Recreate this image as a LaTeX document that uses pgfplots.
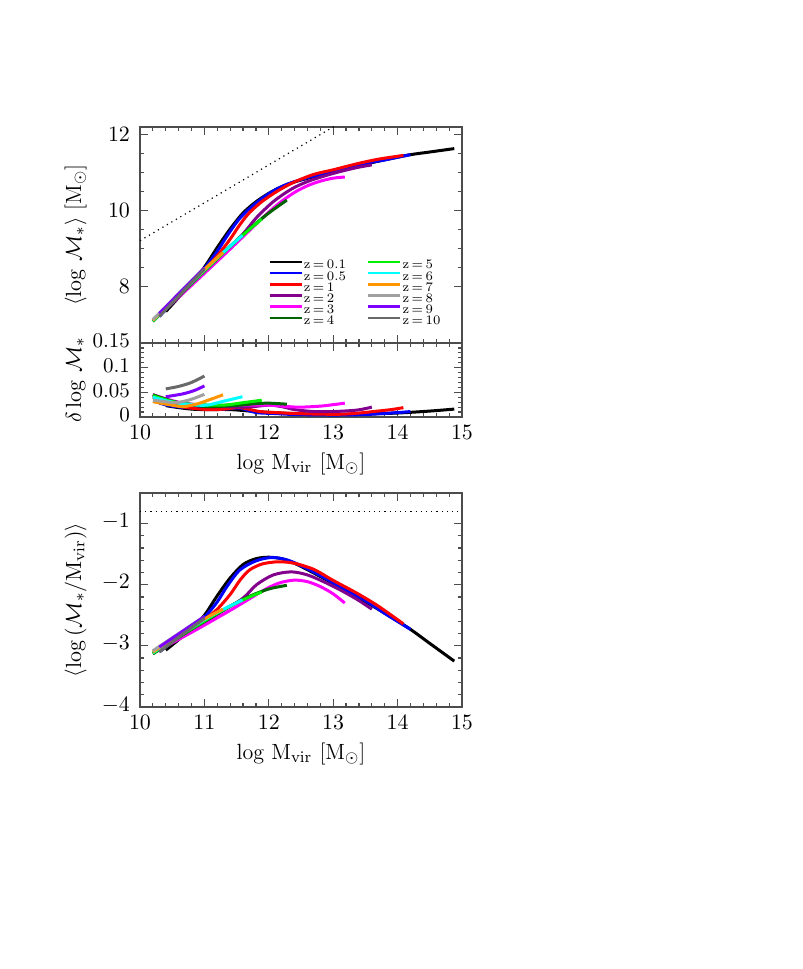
\documentclass[border=0pt]{standalone}
\usepackage{pgfplots}
\usepackage{pgfplotstable}
\pgfplotsset{compat=1.18}
\definecolor{zA}{RGB}{0,0,0}
\definecolor{zB}{RGB}{0,0,255}
\definecolor{zC}{RGB}{255,0,0}
\definecolor{zD}{RGB}{130,0,140}
\definecolor{zE}{RGB}{255,0,255}
\definecolor{zF}{RGB}{0,100,0}
\definecolor{zG}{RGB}{0,240,0}
\definecolor{zH}{RGB}{0,255,255}
\definecolor{zI}{RGB}{255,150,0}
\definecolor{zJ}{RGB}{160,160,160}
\definecolor{zK}{RGB}{125,0,255}
\definecolor{zL}{RGB}{105,105,105}

% x = log Mvir, m = <log M*>, r = <log(M*/Mvir)>
\pgfplotstableread{
x m r
10.40 7.33 -3.07
10.60 7.70 -2.90
10.80 8.08 -2.72
11.00 8.50 -2.50
11.20 9.02 -2.18
11.40 9.51 -1.89
11.60 9.93 -1.67
11.80 10.225 -1.575
12.00 10.45 -1.55
12.20 10.625 -1.575
12.40 10.75 -1.65
12.70 10.89 -1.81
13.00 11.02 -1.98
13.30 11.15 -2.15
13.60 11.26 -2.34
13.90 11.37 -2.53
14.20 11.47 -2.73
14.50 11.54 -2.96
14.88 11.63 -3.25
}\tA
\pgfplotstableread{
x m r
10.30 7.20 -3.10
10.60 7.75 -2.85
10.80 8.12 -2.68
11.00 8.47 -2.53
11.20 8.92 -2.28
11.35 9.32 -2.03
11.55 9.79 -1.76
11.80 10.19 -1.61
12.05 10.495 -1.555
12.30 10.70 -1.60
12.60 10.86 -1.74
12.90 10.99 -1.91
13.20 11.11 -2.09
13.50 11.24 -2.26
13.80 11.33 -2.47
14.00 11.40 -2.60
14.20 11.47 -2.73
}\tB
\pgfplotstableread{
x m r
10.20 7.08 -3.12
10.60 7.75 -2.85
11.00 8.43 -2.57
11.20 8.80 -2.40
11.40 9.24 -2.16
11.55 9.62 -1.93
11.70 9.94 -1.76
11.90 10.24 -1.66
12.15 10.525 -1.625
12.40 10.75 -1.65
12.70 10.95 -1.75
13.00 11.07 -1.93
13.37 11.23 -2.14
13.70 11.35 -2.35
14.09 11.45 -2.64
}\tC
\pgfplotstableread{
x m r
10.20 7.08 -3.12
10.60 7.73 -2.87
11.00 8.38 -2.62
11.30 8.88 -2.42
11.60 9.38 -2.22
11.81 9.81 -2.00
12.07 10.23 -1.84
12.35 10.56 -1.79
12.60 10.76 -1.84
12.85 10.90 -1.95
13.10 11.02 -2.08
13.37 11.13 -2.24
13.60 11.20 -2.40
}\tD
\pgfplotstableread{
x m r
10.20 7.08 -3.12
10.80 8.02 -2.78
11.40 8.98 -2.42
11.89 9.78 -2.11
12.05 10.03 -2.02
12.20 10.24 -1.96
12.40 10.475 -1.925
12.60 10.65 -1.95
12.80 10.77 -2.03
13.00 10.85 -2.15
13.18 10.88 -2.30
}\tE
\pgfplotstableread{
x m r
10.20 7.07 -3.13
10.50 7.57 -2.93
10.80 8.07 -2.73
11.10 8.56 -2.54
11.40 9.05 -2.35
11.70 9.51 -2.19
12.00 9.93 -2.07
12.28 10.27 -2.01
}\tF
\pgfplotstableread{
x m r
10.20 7.08 -3.12
10.50 7.58 -2.92
10.80 8.08 -2.72
11.10 8.57 -2.53
11.40 9.05 -2.35
11.70 9.50 -2.20
11.89 9.77 -2.12
}\tG
\pgfplotstableread{
x m r
10.20 7.09 -3.11
10.60 7.76 -2.84
11.00 8.43 -2.57
11.30 8.90 -2.40
11.59 9.34 -2.25
}\tH
\pgfplotstableread{
x m r
10.20 7.10 -3.10
10.60 7.78 -2.82
11.00 8.44 -2.56
11.29 8.89 -2.40
}\tI
\pgfplotstableread{
x m r
10.20 7.12 -3.08
10.60 7.80 -2.80
11.00 8.48 -2.52
}\tJ
\pgfplotstableread{
x m r
10.30 7.28 -3.02
10.65 7.88 -2.77
11.00 8.48 -2.52
}\tK
\pgfplotstableread{
x m r
10.30 7.20 -3.10
10.65 7.83 -2.82
11.00 8.45 -2.55
}\tL

% scatter delta log M*
\pgfplotstableread{
x d
10.40 0.023
10.60 0.019
10.80 0.016
11.00 0.015
11.40 0.015
11.80 0.011
12.20 0.008
12.60 0.006
13.00 0.005
13.50 0.006
14.00 0.008
14.50 0.012
14.88 0.016
}\dA
\pgfplotstableread{
x d
10.30 0.028
10.50 0.022
10.80 0.018
11.00 0.017
11.30 0.016
11.55 0.018
11.80 0.009
12.10 0.007
12.40 0.005
13.00 0.004
13.50 0.005
14.00 0.009
14.20 0.011
}\dB
\pgfplotstableread{
x d
10.20 0.040
10.60 0.022
11.04 0.015
11.30 0.016
11.55 0.019
11.86 0.011
12.10 0.009
12.33 0.0075
12.70 0.006
13.10 0.0055
13.40 0.008
13.62 0.011
13.90 0.015
14.09 0.019
}\dC
\pgfplotstableread{
x d
10.20 0.045
10.60 0.028
11.00 0.022
11.30 0.021
11.66 0.020
12.00 0.024
12.20 0.021
12.40 0.015
12.70 0.011
13.00 0.011
13.37 0.014
13.60 0.020
}\dD
\pgfplotstableread{
x d
10.20 0.045
10.60 0.030
11.00 0.024
11.50 0.024
12.00 0.024
12.30 0.021
12.50 0.020
12.80 0.022
13.00 0.025
13.18 0.028
}\dE
\pgfplotstableread{
x d
10.20 0.045
10.50 0.032
10.80 0.025
11.04 0.021
11.30 0.022
11.55 0.024
11.80 0.027
12.00 0.028
12.28 0.026
}\dF
\pgfplotstableread{
x d
10.20 0.043
10.40 0.035
10.62 0.028
10.90 0.025
11.29 0.024
11.60 0.029
11.89 0.034
}\dG
\pgfplotstableread{
x d
10.20 0.040
10.50 0.030
10.80 0.025
11.04 0.024
11.30 0.032
11.59 0.041
}\dH
\pgfplotstableread{
x d
10.20 0.031
10.45 0.025
10.67 0.021
10.90 0.027
11.10 0.036
11.29 0.045
}\dI
\pgfplotstableread{
x d
10.20 0.034
10.40 0.031
10.57 0.029
10.80 0.036
11.00 0.046
}\dJ
\pgfplotstableread{
x d
10.40 0.041
10.67 0.047
10.85 0.054
11.00 0.063
}\dK
\pgfplotstableread{
x d
10.40 0.057
10.60 0.062
10.80 0.070
11.00 0.083
}\dL

\pgfplotsset{
  panel/.style={
    scale only axis, width=161pt,
    xmin=10, xmax=15, xtick={10,11,12,13,14,15}, minor x tick num=4,
    tick align=inside, major tick length=4pt, minor tick length=2pt,
    axis line style={black!70, line width=0.7pt},
    every tick/.style={black!70, line width=0.6pt},
    tick label style={font=\fontsize{10.5}{12}\selectfont},
    yticklabel style={xshift=-1.5pt},
    xticklabel style={yshift=-0.5pt},
    label style={font=\fontsize{11}{13}\selectfont},
    ylabel style={at={(axis description cs:-0.2,0.5)}, anchor=center},
  },
  crv/.style={line width=1.5pt, smooth, tension=0.5, forget plot},
}

\begin{document}
\begin{tikzpicture}
\path (0,0) rectangle (401.5pt,484.5pt);

% ---------- top panel ----------
\begin{axis}[panel, at={(70pt,313pt)}, anchor=south west, height=108pt,
  ymin=6.5, ymax=12.2, ytick={8,10,12}, minor y tick num=3,
  xticklabels={},
  ylabel={$\langle\log\,\mathcal{M}_*\rangle$ [M$_\odot$]},
  legend columns=2, legend cell align=left,
  legend image code/.code={\draw[#1, line width=1.3pt] (0pt,1.2pt) -- (16pt,1.2pt);},
  legend style={draw=none, fill=none, at={(0.397,0.392)}, anchor=north west,
    inner sep=0pt, font=\fontsize{6.5}{6.5}\selectfont,
    nodes={inner sep=0.5pt, text height=4.6pt, text depth=0pt},
    row sep=0pt, /tikz/every even column/.append style={column sep=10pt}},
]
\addlegendimage{zA}\addlegendentry{z$\,$=$\,$0.1}
\addlegendimage{zG}\addlegendentry{z$\,$=$\,$5}
\addlegendimage{zB}\addlegendentry{z$\,$=$\,$0.5}
\addlegendimage{zH}\addlegendentry{z$\,$=$\,$6}
\addlegendimage{zC}\addlegendentry{z$\,$=$\,$1}
\addlegendimage{zI}\addlegendentry{z$\,$=$\,$7}
\addlegendimage{zD}\addlegendentry{z$\,$=$\,$2}
\addlegendimage{zJ}\addlegendentry{z$\,$=$\,$8}
\addlegendimage{zE}\addlegendentry{z$\,$=$\,$3}
\addlegendimage{zK}\addlegendentry{z$\,$=$\,$9}
\addlegendimage{zF}\addlegendentry{z$\,$=$\,$4}
\addlegendimage{zL}\addlegendentry{z$\,$=$\,$10}
\addplot[black, dotted, line width=0.6pt, forget plot] coordinates {(10,9.2) (13.6,12.8)};
\addplot[zA, crv] table[x=x, y=m] {\tA};
\addplot[zB, crv] table[x=x, y=m] {\tB};
\addplot[zC, crv] table[x=x, y=m] {\tC};
\addplot[zD, crv] table[x=x, y=m] {\tD};
\addplot[zE, crv] table[x=x, y=m] {\tE};
\addplot[zF, crv] table[x=x, y=m] {\tF};
\addplot[zG, crv] table[x=x, y=m] {\tG};
\addplot[zH, crv] table[x=x, y=m] {\tH};
\addplot[zI, crv] table[x=x, y=m] {\tI};
\addplot[zJ, crv] table[x=x, y=m] {\tJ};
\addplot[zK, crv] table[x=x, y=m] {\tK};
\addplot[zL, crv] table[x=x, y=m] {\tL};
\end{axis}

% ---------- middle panel ----------
\begin{axis}[panel, at={(70pt,276pt)}, anchor=south west, height=37pt,
  ymin=0, ymax=0.15, ytick={0,0.05,0.1,0.15}, yticklabels={0,0.05,0.1,0.15},
  minor y tick num=4,
  yticklabel style={yshift=1pt},
  xlabel={log M$_{\mathrm{vir}}$ [M$_\odot$]},
  ylabel={$\delta\log\,\mathcal{M}_*$},
]
\addplot[zA, crv] table[x=x, y=d] {\dA};
\addplot[zB, crv] table[x=x, y=d] {\dB};
\addplot[zC, crv] table[x=x, y=d] {\dC};
\addplot[zD, crv] table[x=x, y=d] {\dD};
\addplot[zE, crv] table[x=x, y=d] {\dE};
\addplot[zF, crv] table[x=x, y=d] {\dF};
\addplot[zG, crv] table[x=x, y=d] {\dG};
\addplot[zH, crv] table[x=x, y=d] {\dH};
\addplot[zI, crv] table[x=x, y=d] {\dI};
\addplot[zJ, crv] table[x=x, y=d] {\dJ};
\addplot[zK, crv] table[x=x, y=d] {\dK};
\addplot[zL, crv] table[x=x, y=d] {\dL};
\end{axis}

% ---------- bottom panel ----------
\begin{axis}[panel, at={(70pt,131pt)}, anchor=south west, height=107pt,
  ymin=-4, ymax=-0.5, ytick={-4,-3,-2,-1}, minor y tick num=4,
  yticklabel style={yshift=1pt},
  xlabel={log M$_{\mathrm{vir}}$ [M$_\odot$]},
  ylabel={$\langle\log\,(\mathcal{M}_*/\mathrm{M_{vir}})\rangle$},
]
\addplot[black, dotted, line width=0.6pt, forget plot] coordinates {(10,-0.8) (15,-0.8)};
\addplot[zA, crv] table[x=x, y=r] {\tA};
\addplot[zB, crv] table[x=x, y=r] {\tB};
\addplot[zC, crv] table[x=x, y=r] {\tC};
\addplot[zD, crv] table[x=x, y=r] {\tD};
\addplot[zE, crv] table[x=x, y=r] {\tE};
\addplot[zF, crv] table[x=x, y=r] {\tF};
\addplot[zG, crv] table[x=x, y=r] {\tG};
\addplot[zH, crv] table[x=x, y=r] {\tH};
\addplot[zI, crv] table[x=x, y=r] {\tI};
\addplot[zJ, crv] table[x=x, y=r] {\tJ};
\addplot[zK, crv] table[x=x, y=r] {\tK};
\addplot[zL, crv] table[x=x, y=r] {\tL};
\end{axis}
\end{tikzpicture}
\end{document}
